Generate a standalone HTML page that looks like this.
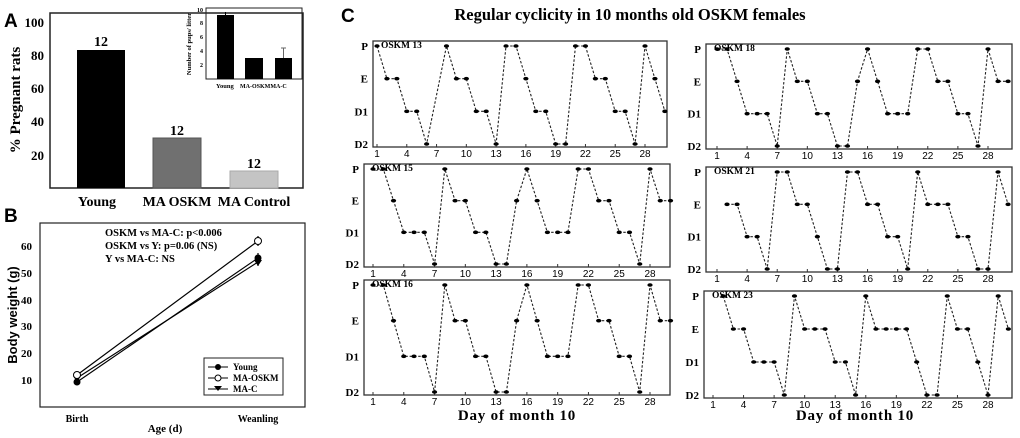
<!DOCTYPE html>
<html><head><meta charset="utf-8"><style>
html,body{margin:0;padding:0;background:#fff;}
svg{display:block;font-family:"Liberation Serif",serif;font-weight:bold;}
.sans{font-family:"Liberation Sans",sans-serif;}
</style></head><body>
<svg id="s" width="1020" height="438" viewBox="0 0 1020 438" xmlns="http://www.w3.org/2000/svg">
<!-- Panel A -->
<text x="4" y="27" class="sans" font-size="19" font-weight="bold">A</text>
<rect x="50" y="13" width="253" height="175" fill="none" stroke="#222" stroke-width="1.5"/>
<g font-size="13" text-anchor="end">
<text x="44" y="27">100</text><text x="44" y="60">80</text><text x="44" y="93">60</text><text x="44" y="126">40</text><text x="44" y="160">20</text>
</g>
<text transform="translate(20,100) rotate(-90)" font-size="15" text-anchor="middle">% Pregnant rats</text>
<rect x="77" y="50" width="48" height="138" fill="#000"/>
<rect x="153" y="138" width="48" height="50" fill="#707070" stroke="#555"/>
<rect x="230" y="171" width="48" height="17" fill="#c4c4c4" stroke="#aaa"/>
<g font-size="14" text-anchor="middle">
<text x="101" y="46">12</text><text x="177" y="135">12</text><text x="254" y="168">12</text>
<text x="97" y="206">Young</text><text x="177" y="206">MA OSKM</text><text x="254" y="206">MA Control</text>
</g>
<!-- inset -->
<rect x="206" y="8" width="96" height="71" fill="none" stroke="#222"/>
<g font-size="6" text-anchor="end"><text x="203" y="12">10</text><text x="203" y="25">8</text><text x="203" y="39">6</text><text x="203" y="53">4</text><text x="203" y="67">2</text></g>
<text transform="translate(191,44) rotate(-90)" font-size="6.5" text-anchor="middle">Number of pups/ litter</text>
<rect x="217" y="15" width="17" height="64" fill="#000"/>
<line x1="225.5" y1="12" x2="225.5" y2="15" stroke="#000"/>
<rect x="245" y="58" width="18" height="21" fill="#000"/>
<rect x="275" y="58" width="17" height="21" fill="#000"/>
<line x1="283.5" y1="48" x2="283.5" y2="58" stroke="#666"/><line x1="281" y1="48" x2="286" y2="48" stroke="#666"/>
<g font-size="6.5"><text x="216" y="88">Young</text><text x="240" y="88" font-size="6">MA-OSKMMA-C</text></g>
<!-- Panel B -->
<text x="4" y="222" class="sans" font-size="19" font-weight="bold">B</text>
<rect x="40" y="223" width="265" height="184" fill="none" stroke="#222" stroke-width="1.2"/>
<g font-size="11" text-anchor="end">
<text x="32" y="250">60</text><text x="32" y="277">50</text><text x="32" y="304">40</text><text x="32" y="330">30</text><text x="32" y="357">20</text><text x="32" y="384">10</text>
</g>
<text transform="translate(17,315) rotate(-90)" style="font-family:'Liberation Sans',sans-serif" font-size="13" text-anchor="middle">Body weight (g)</text>
<g font-size="10.5"><text x="105" y="236">OSKM vs MA-C: p&lt;0.006</text><text x="105" y="249">OSKM vs Y: p=0.06 (NS)</text><text x="105" y="262">Y vs MA-C: NS</text></g>
<g stroke="#000" stroke-width="1.2">
<line x1="77" y1="375" x2="258" y2="241"/>
<line x1="77" y1="382" x2="258" y2="258"/>
<line x1="77" y1="378" x2="258" y2="262"/>
<line x1="258" y1="236" x2="258" y2="246"/><line x1="258" y1="253" x2="258" y2="266"/>
</g>
<circle cx="77" cy="382" r="3.5" fill="#000"/><circle cx="258" cy="258" r="3.5" fill="#000"/>
<path d="M73,376 h8 l-4,6z M254,260 h8 l-4,6z" fill="#000"/>
<circle cx="77" cy="375" r="3.5" fill="#fff" stroke="#000"/><circle cx="258" cy="241" r="3.5" fill="#fff" stroke="#000"/>
<g font-size="10" text-anchor="middle"><text x="77" y="422">Birth</text><text x="258" y="422">Weanling</text></g>
<text x="165" y="432" font-size="11" text-anchor="middle">Age (d)</text>
<rect x="204" y="358" width="79" height="37" fill="#fff" stroke="#222"/>
<g stroke="#000"><line x1="208" y1="367" x2="228" y2="367"/><line x1="208" y1="378" x2="228" y2="378"/><line x1="208" y1="389" x2="228" y2="389"/></g>
<circle cx="218" cy="367" r="3" fill="#000"/><circle cx="218" cy="378" r="3" fill="#fff" stroke="#000"/><path d="M214,386 h8 l-4,5z" fill="#000"/>
<g font-size="9"><text x="233" y="370">Young</text><text x="233" y="381">MA-OSKM</text><text x="233" y="392">MA-C</text></g>
<!-- Panel C -->
<text x="341" y="22" class="sans" font-size="19" font-weight="bold">C</text>
<text x="630" y="20" font-size="16.5" text-anchor="middle">Regular cyclicity in 10 months old OSKM females</text>
<text x="517" y="420" font-size="15" text-anchor="middle" letter-spacing="0.8">Day of month 10</text>
<text x="855" y="420" font-size="15" text-anchor="middle" letter-spacing="0.8">Day of month 10</text>
<g id="c"></g>
</svg>
<script>
var P=0,E=1,D1=2,D2=3,N=null;
var s18=[P,P,E,D1,D1,D1,D2,P,E,E,D1,D1,D2,D2,E,P,E,D1,D1,D1,P,P,E,E,D1,D1,D2,P,E,E];
var plots=[
 {fx:373,fr:667,x1:377,x28:645,py:46,dy:144,name:"OSKM 13",d:[P,E,E,D1,D1,D2,N,P,E,E,D1,D1,D2,P,P,E,D1,D1,D2,D2,P,P,E,E,D1,D1,D2,P,E,D1]},
 {fx:706,fr:1012,x1:717,x28:988,py:49,dy:146,name:"OSKM 18",d:s18},
 {fx:364,fr:670,x1:373,x28:650,py:169,dy:264,name:"OSKM 15",d:s18},
 {fx:706,fr:1012,x1:717,x28:988,py:172,dy:269,name:"OSKM 21",d:[N,E,E,D1,D1,D2,P,P,E,E,D1,D2,D2,P,P,E,E,D1,D1,D2,P,E,E,E,D1,D1,D2,D2,P,E]},
 {fx:364,fr:670,x1:373,x28:650,py:285,dy:392,name:"OSKM 16",d:s18},
 {fx:704,fr:1012,x1:713,x28:988,py:296,dy:395,name:"OSKM 23",d:[N,P,E,E,D1,D1,D1,D2,P,E,E,E,D1,D1,D2,P,E,E,E,E,D1,D2,D2,P,E,E,D1,D2,P,E]}
];
var ticks=["1","4","7","10","13","16","19","22","25","28"];
var lab=["P","E","D1","D2"];
var h="";
plots.forEach(function(p){
 var st=(p.x28-p.x1)/27, sy=(p.dy-p.py)/3;
 var X=function(d){return p.x1+(d-1)*st;}, Y=function(l){return p.py+l*sy;};
 var top=p.py-5,bot=p.dy+3;
 h+='<rect x="'+p.fx+'" y="'+top+'" width="'+(p.fr-p.fx)+'" height="'+(bot-top)+'" fill="none" stroke="#333" stroke-width="1.3"/>';
 for(var i=0;i<4;i++) h+='<text x="'+(p.fx-5)+'" y="'+(Y(i)+4)+'" font-size="11" text-anchor="end">'+lab[i]+'</text>';
 ticks.forEach(function(t){var x=X(+t);h+='<text x="'+x+'" y="'+(bot+10)+'" font-size="10" class="sans" font-weight="normal" text-anchor="middle">'+t+'</text>';h+='<line x1="'+x+'" y1="'+bot+'" x2="'+x+'" y2="'+(bot-3)+'" stroke="#333"/>';});
 var pts=[];
 p.d.forEach(function(l,i){if(l!==null)pts.push([X(i+1),Y(l)]);});
 h+='<polyline points="'+pts.map(function(q){return q[0].toFixed(1)+','+q[1].toFixed(1);}).join(' ')+'" fill="none" stroke="#222" stroke-width="1.1" stroke-dasharray="2.5,1.8"/>';
 pts.forEach(function(q){h+='<ellipse cx="'+q[0]+'" cy="'+q[1]+'" rx="2.6" ry="1.8" fill="#000"/>';});
 h+='<text x="'+(p.fx+8)+'" y="'+(top+7)+'" font-size="9.5">'+p.name+'</text>';
});
document.getElementById("c").innerHTML=h;
</script>
</body></html>
